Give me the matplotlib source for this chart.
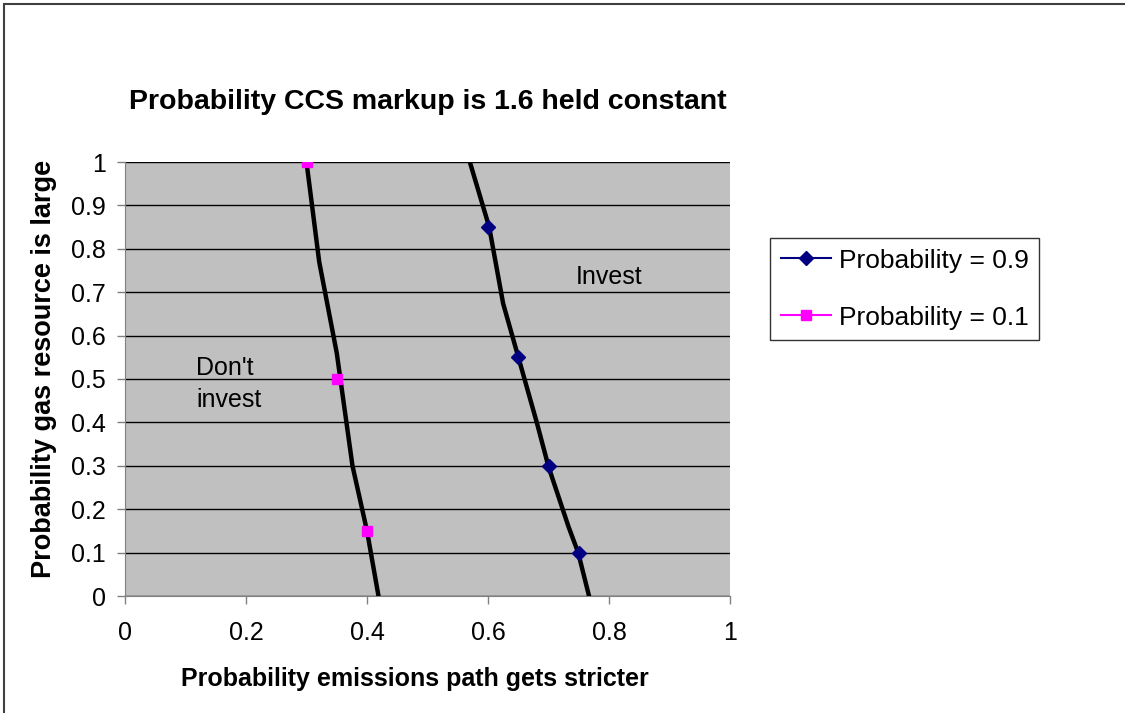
import matplotlib.pyplot as plt
from matplotlib.patches import Rectangle
from matplotlib.lines import Line2D

plt.rcParams['font.family'] = ['Liberation Sans', 'DejaVu Sans']

# series markers
x_hi = [0.6, 0.65, 0.7, 0.75]
y_hi = [0.85, 0.55, 0.3, 0.1]
x_lo = [0.3, 0.35, 0.4]
y_lo = [1.0, 0.5, 0.15]

# hand drawn boundary lines
bx_left = [0.300, 0.321, 0.350, 0.376, 0.400, 0.419]
by_left = [1.0, 0.77, 0.56, 0.30, 0.15, 0.0]
bx_right = [0.570, 0.602, 0.625, 0.650, 0.681, 0.700, 0.733, 0.749, 0.767]
by_right = [1.0, 0.85, 0.674, 0.551, 0.398, 0.298, 0.160, 0.100, 0.0]

yticks = [0, 0.1, 0.2, 0.3, 0.4, 0.5, 0.6, 0.7, 0.8, 0.9, 1]
xticks = [0, 0.2, 0.4, 0.6, 0.8, 1]

fig = plt.figure(figsize=(11.25, 7.13), dpi=100)
fig.patches.append(Rectangle((4/1125, -0.1), 1.2, 1 - 4/713 + 0.1, transform=fig.transFigure,
                             fill=False, edgecolor='#404040', lw=1.5))
ax = fig.add_axes([125/1125, 1 - 596/713, 605/1125, 434/713])
ax.set_facecolor('#c0c0c0')

ax.plot(bx_left, by_left, color='black', lw=3.2, zorder=3)
ax.plot(bx_right, by_right, color='black', lw=3.2, zorder=3)
ax.plot(x_hi, y_hi, linestyle='none', marker='D', color='#000080', ms=7,
        label='Probability = 0.9', zorder=4)
ax.plot(x_lo, y_lo, linestyle='none', marker='s', color='#ff00ff', ms=7,
        label='Probability = 0.1', zorder=4)

ax.set_xlim(0, 1)
ax.set_ylim(0, 1)
ax.set_xticks(xticks)
ax.set_yticks(yticks)
ax.set_xticklabels(['0', '0.2', '0.4', '0.6', '0.8', '1'])
ax.set_yticklabels(['0', '0.1', '0.2', '0.3', '0.4', '0.5', '0.6', '0.7', '0.8', '0.9', '1'])
ax.yaxis.grid(True, color='black', lw=1)
ax.set_axisbelow(True)
for s in ['top', 'right']:
    ax.spines[s].set_visible(False)
for s in ['left', 'bottom']:
    ax.spines[s].set_color('#808080')
ax.tick_params(axis='both', colors='#808080', labelcolor='black', labelsize=18, length=6, width=1)
ax.tick_params(axis='x', pad=12)
ax.tick_params(axis='y', pad=8)

ax.text(0.80, 0.735, 'Invest', fontsize=18, ha='center', va='center')
ax.text(0.118, 0.488, "Don't\ninvest", fontsize=18, ha='left', va='center', linespacing=1.4)

ax.set_title('Probability CCS markup is 1.6 held constant', fontsize=20.5, fontweight='bold', pad=38)
ax.set_xlabel('Probability emissions path gets stricter', fontsize=18, fontweight='bold')
ax.xaxis.set_label_coords(0.479, -0.163)
ax.set_ylabel('Probability gas resource is large', fontsize=19.5, fontweight='bold')
ax.yaxis.set_label_coords(-0.112, 0.523)

# legend shows line + marker like the original
h = [Line2D([], [], color='#000080', marker='D', ms=7, lw=1.5),
     Line2D([], [], color='#ff00ff', marker='s', ms=7, lw=1.5)]
leg = fig.legend(h, ['Probability = 0.9', 'Probability = 0.1'], loc='upper left',
                 bbox_to_anchor=(770/1125, 1 - 238/713), fontsize=19, frameon=True,
                 fancybox=False, edgecolor='black', handlelength=1.9, labelspacing=1.25,
                 borderpad=0.4, handletextpad=0.3, borderaxespad=0)
leg.get_frame().set_linewidth(1)

fig.savefig('out.png', dpi=100)
